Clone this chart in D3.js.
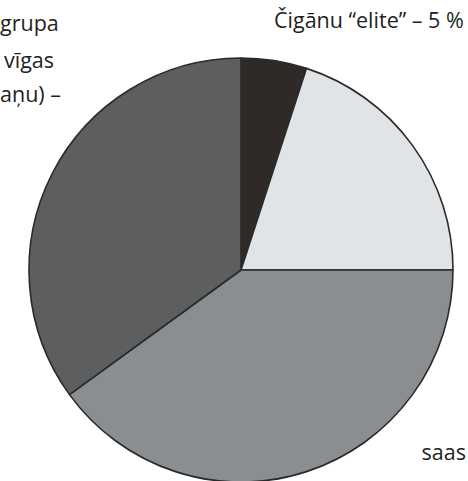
<!DOCTYPE html>
<html>
<head>
<meta charset="utf-8">
<script src="https://cdn.jsdelivr.net/npm/d3@7"></script>
<style>
  html, body { margin: 0; padding: 0; background: #ffffff; }
  svg { display: block; }
  text { font-family: "Open Sans", "Noto Sans", sans-serif; fill: #231f20; }
</style>
</head>
<body>
<svg id="chart" width="468" height="481"></svg>
<script>
// Data (clockwise from 12 o'clock)
const categories = ["Čigānu \u201Celite\u201D", "Light group", "Medium group", "Dark group"];
const values = [5, 20, 40, 35];
const colors = ["#2f2a28", "#e1e4e7", "#8b8e90", "#5c5e60"];

// Visible (cropped) label fragments
const labelLeftLines = ["grupa", "vīgas", "aņu) –"];
const labelTopRight = "Čigānu \u201Celite\u201D – 5 %";
const labelBottomRight = "saas";

const svg = d3.select("#chart");
const cx = 241, cy = 270, r = 212;

const pie = d3.pie().sort(null).value(d => d)(values);
const arc = d3.arc().innerRadius(0).outerRadius(r);

const g = svg.append("g").attr("transform", `translate(${cx},${cy})`);
g.selectAll("path")
  .data(pie)
  .join("path")
  .attr("d", arc)
  .attr("fill", (d, i) => colors[i])
  .attr("stroke", "#2a2a2a")
  .attr("stroke-width", 1.6)
  .attr("stroke-linejoin", "round");

// Left labels (cropped at left edge in the original)
const fontSize = 21.5;
const leftX = [0, 4, 0];
const leftY = [31, 68, 102];
svg.selectAll("text.left")
  .data(labelLeftLines)
  .join("text")
  .attr("class", "left")
  .attr("x", (d, i) => leftX[i])
  .attr("y", (d, i) => leftY[i])
  .attr("font-size", fontSize)
  .text(d => d);

svg.append("text")
  .attr("x", 274)
  .attr("y", 28)
  .attr("font-size", fontSize)
  .text(labelTopRight);

svg.append("text")
  .attr("x", 466)
  .attr("y", 460)
  .attr("text-anchor", "end")
  .attr("font-size", fontSize)
  .text(labelBottomRight);
</script>
</body>
</html>
